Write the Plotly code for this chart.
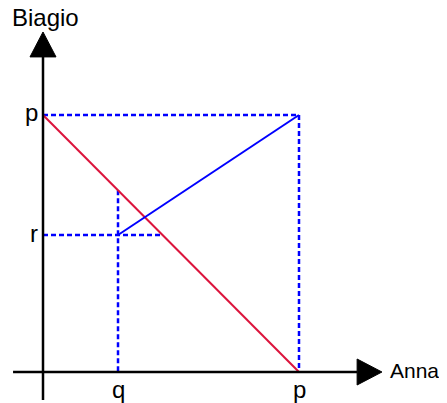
import plotly.graph_objects as go

# ---- data (values in units of p) ----
P = 1.0          # p
Q = 0.293        # q
R = 0.533        # r
x_label = "Anna"
y_label = "Biagio"
tick_p = "p"
tick_q = "q"
tick_r = "r"

# ---- view (page has an 8px body margin) ----
W, H = 439, 395
x_range = [-35 / 256.0, (W - 35) / 256.0]
y_range = [-(H - 364) / 257.0, 364 / 257.0]

BLUE = "#0000FF"
RED = "#DC143C"
FONT = "Liberation Sans, Arial, Helvetica, sans-serif"

fig = go.Figure()

dot = dict(color=BLUE, width=2.5, dash="5px,3px")

# dotted guides
fig.add_trace(go.Scatter(x=[0, P], y=[P, P], mode="lines", line=dot, hoverinfo="skip"))
fig.add_trace(go.Scatter(x=[P, P], y=[P, 0], mode="lines", line=dot, hoverinfo="skip"))
fig.add_trace(go.Scatter(x=[Q, Q], y=[P - Q, 0], mode="lines", line=dot, hoverinfo="skip"))
fig.add_trace(go.Scatter(x=[0, P - R], y=[R, R], mode="lines", line=dot, hoverinfo="skip"))

# red and blue lines
fig.add_trace(go.Scatter(x=[0, P], y=[P, 0], mode="lines", line=dict(color=RED, width=2), hoverinfo="skip"))
fig.add_trace(go.Scatter(x=[Q, P], y=[R, P], mode="lines", line=dict(color=BLUE, width=2), hoverinfo="skip"))

# axes
ax_x_start, ax_x_base, ax_x_tip = -0.117, 1.227, 1.324
ax_y_start, ax_y_base, ax_y_tip = -0.109, 1.226, 1.323
hw_x = 13 / 257.0   # half-width of x arrow in y units
hw_y = 13 / 256.0   # half-width of y arrow in x units

shapes = [
    dict(type="line", x0=ax_x_start, y0=0, x1=ax_x_base, y1=0, line=dict(color="black", width=2.5), layer="above"),
    dict(type="line", x0=0, y0=ax_y_start, x1=0, y1=ax_y_base, line=dict(color="black", width=2.5), layer="above"),
    dict(type="path",
         path=f"M {ax_x_base},{-hw_x} L {ax_x_tip},0 L {ax_x_base},{hw_x} Z",
         fillcolor="black", line=dict(color="black", width=1), layer="above"),
    dict(type="path",
         path=f"M {-hw_y},{ax_y_base} L 0,{ax_y_tip} L {hw_y},{ax_y_base} Z",
         fillcolor="black", line=dict(color="black", width=1), layer="above"),
]

f = dict(family=FONT, size=24, color="black")
f_anna = dict(family=FONT, size=21, color="black")
annotations = [
    dict(x=0, y=P, text=tick_p, showarrow=False, xanchor="right", yanchor="middle", xshift=-3, yshift=3, font=f),
    dict(x=0, y=R, text=tick_r, showarrow=False, xanchor="right", yanchor="middle", xshift=-3, yshift=2, font=f),
    dict(x=Q, y=0, text=tick_q, showarrow=False, xanchor="center", yanchor="top", yshift=-2, font=f),
    dict(x=P, y=0, text=tick_p, showarrow=False, xanchor="center", yanchor="top", yshift=-2, font=f),
    dict(x=ax_x_tip, y=0, text=x_label, showarrow=False, xanchor="left", yanchor="middle", xshift=6, yshift=2, font=f_anna),
    dict(x=0, y=ax_y_tip, text=y_label, showarrow=False, xanchor="center", yanchor="middle", xshift=2, yshift=14, font=f),
]

fig.update_layout(
    width=W, height=H,
    margin=dict(l=0, r=0, t=0, b=0),
    paper_bgcolor="white", plot_bgcolor="white",
    showlegend=False,
    xaxis=dict(range=x_range, visible=False, fixedrange=True),
    yaxis=dict(range=y_range, visible=False, fixedrange=True),
    shapes=shapes,
    annotations=annotations,
)

fig.write_html("out.html")
